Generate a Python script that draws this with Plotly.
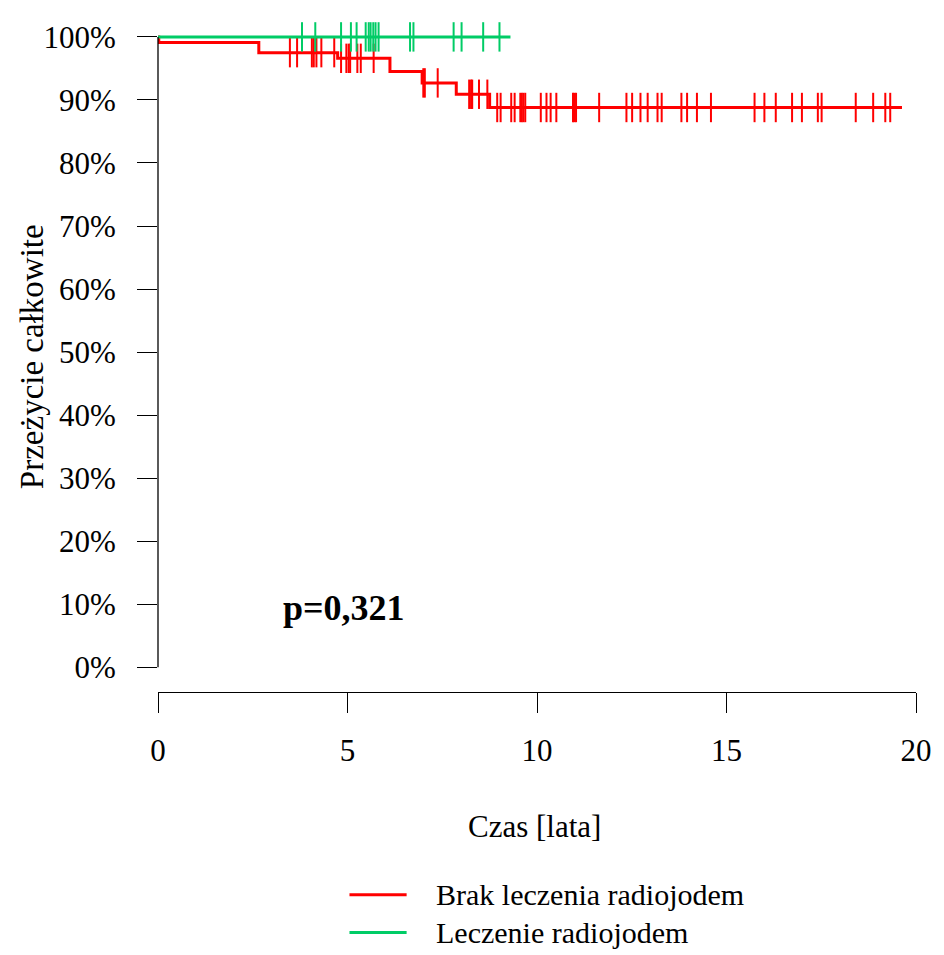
import plotly.graph_objects as go

# ---- data ----
red_name = "Brak leczenia radiojodem"
red_event_times = [0.0, 0.02, 2.66, 4.74, 6.12, 6.97, 7.87, 8.75, 19.63]
red_event_surv = [1.0, 0.991, 0.975, 0.966, 0.945, 0.927, 0.909, 0.888, 0.888]
red_censor_times = [3.48, 3.67, 4.06, 4.11, 4.18, 4.31, 4.65, 4.83, 4.97, 5.03, 5.07, 5.26,
                    5.35, 5.69, 7.00, 7.04, 7.38, 8.21, 8.26, 8.29, 8.47, 8.69, 8.95, 9.04,
                    9.32, 9.41, 9.56, 9.60, 9.64, 9.69, 10.10, 10.25, 10.36, 10.51, 10.95,
                    10.99, 11.03, 11.64, 12.36, 12.51, 12.73, 12.92, 13.18, 13.29, 13.81,
                    13.96, 14.22, 14.59, 15.74, 16.00, 16.30, 16.73, 16.99, 17.41, 17.51,
                    18.41, 18.87, 19.19, 19.32]

green_name = "Leczenie radiojodem"
green_event_times = [0.0, 9.30]
green_event_surv = [1.0, 1.0]
green_censor_times = [3.80, 4.15, 4.83, 5.09, 5.24, 5.48, 5.56, 5.61, 5.68, 5.74, 5.82,
                      6.65, 6.74, 7.80, 8.01, 8.58, 9.01]

x_ticks = [0, 5, 10, 15, 20]
y_ticks = [0.0, 0.1, 0.2, 0.3, 0.4, 0.5, 0.6, 0.7, 0.8, 0.9, 1.0]
p_text = "p=0,321"
x_title = "Czas [lata]"
y_title = "Przeżycie całkowite"

RED = "#FF0000"
GREEN = "#00CC66"
FONT = "Liberation Serif"


def surv_at(t, times, surv):
    s = surv[0]
    for tt, ss in zip(times, surv):
        if tt <= t:
            s = ss
    return s


fig = go.Figure()
for times, surv, ctimes, col in [
    (red_event_times, red_event_surv, red_censor_times, RED),
    (green_event_times, green_event_surv, green_censor_times, GREEN),
]:
    fig.add_trace(go.Scatter(x=times, y=surv, mode="lines", line=dict(color=col, width=3, shape="hv"),
                             showlegend=False, hoverinfo="skip"))
    fig.add_trace(go.Scatter(x=ctimes, y=[surv_at(t, times, surv) for t in ctimes], mode="markers",
                             marker=dict(symbol="line-ns", size=21, line=dict(color=col, width=2)),
                             cliponaxis=False, showlegend=False, hoverinfo="skip"))

# y axis line (only spanning 0..100%)
fig.add_shape(type="line", xref="paper", yref="y", x0=0, x1=0, y0=0, y1=1,
              line=dict(color="black", width=1.3))

# p-value
fig.add_annotation(x=4.9, y=0.094, xref="x", yref="y", text="<b>" + p_text + "</b>", showarrow=False,
                   font=dict(family=FONT, size=36, color="black"), xanchor="center", yanchor="middle")
# axis titles
fig.add_annotation(x=0.497, y=-0.2024, xref="paper", yref="paper", text=x_title, showarrow=False,
                   font=dict(family=FONT, size=31, color="black"), xanchor="center", yanchor="middle")
fig.add_annotation(x=-0.1667, y=0.5045, xref="paper", yref="paper", text=y_title, showarrow=False,
                   textangle=-90, font=dict(family=FONT, size=33, color="black"),
                   xanchor="center", yanchor="middle")

# legend (manual)
for i, (name, col) in enumerate([(red_name, RED), (green_name, GREEN)]):
    yy = -0.305 - i * 0.0566
    fig.add_shape(type="line", xref="paper", yref="paper", x0=0.2526, x1=0.328, y0=yy, y1=yy,
                  line=dict(color=col, width=3))
    fig.add_annotation(x=0.3646, y=yy, xref="paper", yref="paper", text=name, showarrow=False,
                       font=dict(family=FONT, size=30, color="black"), xanchor="left", yanchor="middle")

fig.update_layout(
    width=936, height=947,
    margin=dict(l=150, r=18, t=12, b=263),
    paper_bgcolor="white", plot_bgcolor="white",
    font=dict(family=FONT, size=31, color="black"),
    xaxis=dict(range=[0, 20], tickvals=x_ticks, ticktext=[str(v) for v in x_ticks],
               showgrid=False, zeroline=False, showline=True, linecolor="black", linewidth=1.3,
               ticks="outside", ticklen=20, tickwidth=1.3, tickcolor="black",
               ticklabelstandoff=11, tickfont=dict(family=FONT, size=31, color="black")),
    yaxis=dict(range=[-25 / 637, 1 + 10 / 637], tickvals=y_ticks,
               ticktext=[f"{int(round(v * 100))}%" for v in y_ticks],
               showgrid=False, zeroline=False, showline=False,
               ticks="outside", ticklen=20, tickwidth=1.3, tickcolor="black",
               ticklabelstandoff=15, tickfont=dict(family=FONT, size=31, color="black")),
)

fig.write_html("out.html")
